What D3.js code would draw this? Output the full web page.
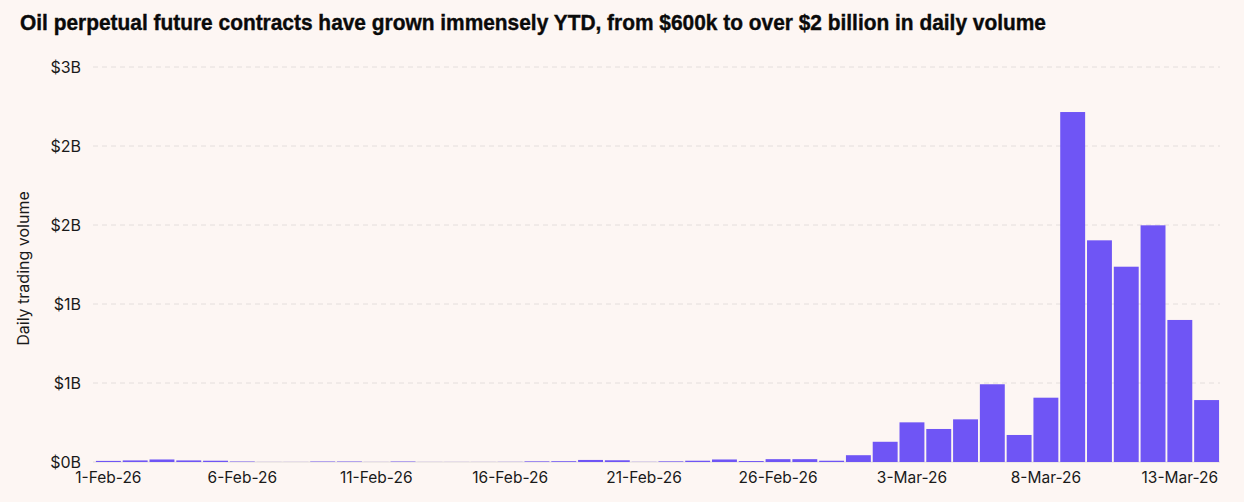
<!DOCTYPE html>
<html>
<head>
<meta charset="utf-8">
<script src="https://cdn.jsdelivr.net/npm/d3@7"></script>
<style>
  html, body { margin: 0; padding: 0; background: #fdf6f3; }
  svg { display: block; }
</style>
</head>
<body>
<svg id="chart" width="1244" height="502"></svg>
<script>
const titleText = "Oil perpetual future contracts have grown immensely YTD, from $600k to over $2 billion in daily volume";
const yAxisTitle = "Daily trading volume";

const dates = [
  "2026-02-01","2026-02-02","2026-02-03","2026-02-04","2026-02-05","2026-02-06","2026-02-07",
  "2026-02-08","2026-02-09","2026-02-10","2026-02-11","2026-02-12","2026-02-13","2026-02-14",
  "2026-02-15","2026-02-16","2026-02-17","2026-02-18","2026-02-19","2026-02-20","2026-02-21",
  "2026-02-22","2026-02-23","2026-02-24","2026-02-25","2026-02-26","2026-02-27","2026-02-28",
  "2026-03-01","2026-03-02","2026-03-03","2026-03-04","2026-03-05","2026-03-06","2026-03-07",
  "2026-03-08","2026-03-09","2026-03-10","2026-03-11","2026-03-12","2026-03-13","2026-03-14"
];

// daily trading volume, $ billions
const volumes = [
  0.007, 0.010, 0.016, 0.010, 0.008, 0.003, 0.0005,
  0.0005, 0.003, 0.003, 0.0005, 0.003, 0.0005, 0.0005,
  0.0005, 0.001, 0.004, 0.005, 0.013, 0.011, 0.001,
  0.004, 0.008, 0.016, 0.006, 0.018, 0.018, 0.008,
  0.043, 0.128, 0.251, 0.209, 0.270, 0.492, 0.171,
  0.407, 2.215, 1.403, 1.236, 1.498, 0.899, 0.392
];

const xTickDates = ["2026-02-01","2026-02-06","2026-02-11","2026-02-16","2026-02-21","2026-02-26","2026-03-03","2026-03-08","2026-03-13"];
const xTickLabels = ["1-Feb-26","6-Feb-26","11-Feb-26","16-Feb-26","21-Feb-26","26-Feb-26","3-Mar-26","8-Mar-26","13-Mar-26"];

const yTickValues = [0, 0.5, 1, 1.5, 2, 2.5];
const yTickLabels = ["$0B","$1B","$1B","$2B","$2B","$3B"];

const W = 1244, H = 502;
const margin = { left: 95, right: 24, top: 67, bottom: 40 };
const svg = d3.select("#chart");

svg.append("rect").attr("width", W).attr("height", H).attr("fill", "#fdf6f3");

const x = d3.scaleBand().domain(dates).range([margin.left, W - margin.right]).paddingInner(0.07).paddingOuter(0.035);
const y = d3.scaleLinear().domain([0, 2.5]).range([H - margin.bottom, margin.top]);

const baseFont = "Inter, 'Noto Sans', 'Liberation Sans', sans-serif";

// title (condensed look)
svg.append("text")
  .attr("x", 20).attr("y", 29.5)
  .attr("font-family", "'Liberation Sans', Arial, sans-serif")
  .attr("font-weight", "bold")
  .attr("font-size", 22.5)
  .attr("textLength", 1026)
  .attr("lengthAdjust", "spacingAndGlyphs")
  .attr("fill", "#0a0a0a")
  .attr("stroke", "#0a0a0a").attr("stroke-width", 0.4)
  .text(titleText);

// gridlines
const grid = svg.append("g");
grid.selectAll("line").data(yTickValues.filter(v => v > 0)).join("line")
  .attr("x1", margin.left - 2).attr("x2", W - margin.right)
  .attr("y1", d => y(d)).attr("y2", d => y(d))
  .attr("stroke", "#e4dedc").attr("stroke-width", 1)
  .attr("stroke-dasharray", "5,4");

// baseline
svg.append("line")
  .attr("x1", margin.left - 2).attr("x2", W - margin.right)
  .attr("y1", y(0)).attr("y2", y(0))
  .attr("stroke", "#e2dcda").attr("stroke-width", 1);

// y axis
const yAxis = d3.axisLeft(y).tickValues(yTickValues)
  .tickFormat((d, i) => yTickLabels[i]).tickSize(0).tickPadding(14);
const gy = svg.append("g").attr("transform", `translate(${margin.left},0)`).call(yAxis);
gy.select(".domain").remove();
gy.selectAll("text").attr("font-family", baseFont).attr("font-size", 16).attr("fill", "#1a1a1a");

// y title
svg.append("text")
  .attr("transform", `translate(29,${(y(0) + y(2.5)) / 2 + 4}) rotate(-90)`)
  .attr("text-anchor", "middle")
  .attr("font-family", baseFont).attr("font-size", 16).attr("fill", "#1a1a1a")
  .text(yAxisTitle);

// bars
svg.append("g").selectAll("rect").data(dates).join("rect")
  .attr("x", d => x(d))
  .attr("width", x.bandwidth())
  .attr("y", (d, i) => y(volumes[i]))
  .attr("height", (d, i) => y(0) - y(volumes[i]))
  .attr("fill", "#6f55f5");

// x axis
const xAxis = d3.axisBottom(x).tickValues(xTickDates)
  .tickFormat((d, i) => xTickLabels[i]).tickSize(0).tickPadding(10);
const gx = svg.append("g").attr("transform", `translate(0,${y(0)})`).call(xAxis);
gx.select(".domain").remove();
gx.selectAll("text").attr("font-family", baseFont).attr("font-size", 15.5).attr("fill", "#1a1a1a");
</script>
</body>
</html>
